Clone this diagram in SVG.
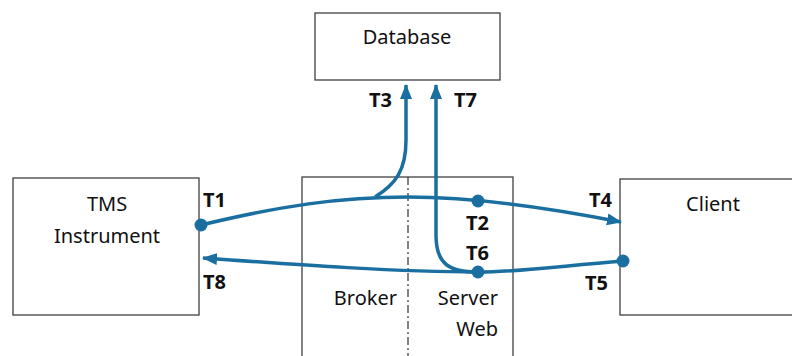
<svg xmlns="http://www.w3.org/2000/svg" width="792" height="356" viewBox="0 0 792 356">
<style>
.box{fill:#fff;stroke:#404040;stroke-width:1.3}
.lbl{font-family:"Noto Sans","Open Sans",sans-serif;font-size:20px;fill:#111}
.t{font-family:"Noto Sans","Open Sans",sans-serif;font-size:20px;font-weight:bold;fill:#111}
.ln{fill:none;stroke:#1B6FA0;stroke-width:3.5}
.dot{fill:#1B6FA0}
</style>
<defs>
<marker id="ah" markerUnits="userSpaceOnUse" markerWidth="16" markerHeight="16" viewBox="0 0 16 16" refX="14" refY="8" orient="auto">
<path d="M0,2 L15,8 L0,14 Z" fill="#1B6FA0"/>
</marker>
</defs>
<g id="database">
<rect class="box" x="315" y="13" width="185" height="67"/>
<text class="lbl" x="407" y="44" text-anchor="middle">Database</text>
</g>
<g id="tms">
<rect class="box" x="13" y="178" width="186" height="137"/>
<text class="lbl" x="107" y="211" text-anchor="middle">TMS</text>
<text class="lbl" x="107" y="243" text-anchor="middle">Instrument</text>
</g>
<g id="middle">
<rect class="box" x="302" y="177" width="211" height="190"/>
<line x1="408" y1="177" x2="408" y2="356" stroke="#404040" stroke-width="1.3" stroke-dasharray="8,3,2,3"/>
<text class="lbl" x="397" y="305" text-anchor="end">Broker</text>
<text class="lbl" x="498" y="305" text-anchor="end">Server</text>
<text class="lbl" x="498" y="336" text-anchor="end">Web</text>
</g>
<g id="client">
<rect class="box" x="620" y="179" width="180" height="136"/>
<text class="lbl" x="713" y="211" text-anchor="middle">Client</text>
</g>
<g id="connectors">
<path class="ln" d="M201,225 C280,206 340,197 408,197 C470,197 540,206 621,222" marker-end="url(#ah)"/>
<path class="ln" d="M623,261 C560,266 520,272 478,272 C400,272 300,265 203,258" marker-end="url(#ah)"/>
<path class="ln" d="M375,197 C396,184 406,170 406,140 L406,85" marker-end="url(#ah)"/>
<path class="ln" d="M478,272 C450,272 436,265 436,235 L436,85" marker-end="url(#ah)"/>
<circle class="dot" cx="201" cy="225" r="6.5"/>
<circle class="dot" cx="478" cy="201" r="6.5"/>
<circle class="dot" cx="478" cy="272" r="6.5"/>
<circle class="dot" cx="623" cy="261" r="6.5"/>
</g>
<g id="labels">
<text class="t" x="203" y="207">T1</text>
<text class="t" x="466" y="230">T2</text>
<text class="t" x="369" y="107">T3</text>
<text class="t" x="589" y="207">T4</text>
<text class="t" x="585" y="290">T5</text>
<text class="t" x="466" y="260">T6</text>
<text class="t" x="454" y="107">T7</text>
<text class="t" x="203" y="289">T8</text>
</g>
</svg>
